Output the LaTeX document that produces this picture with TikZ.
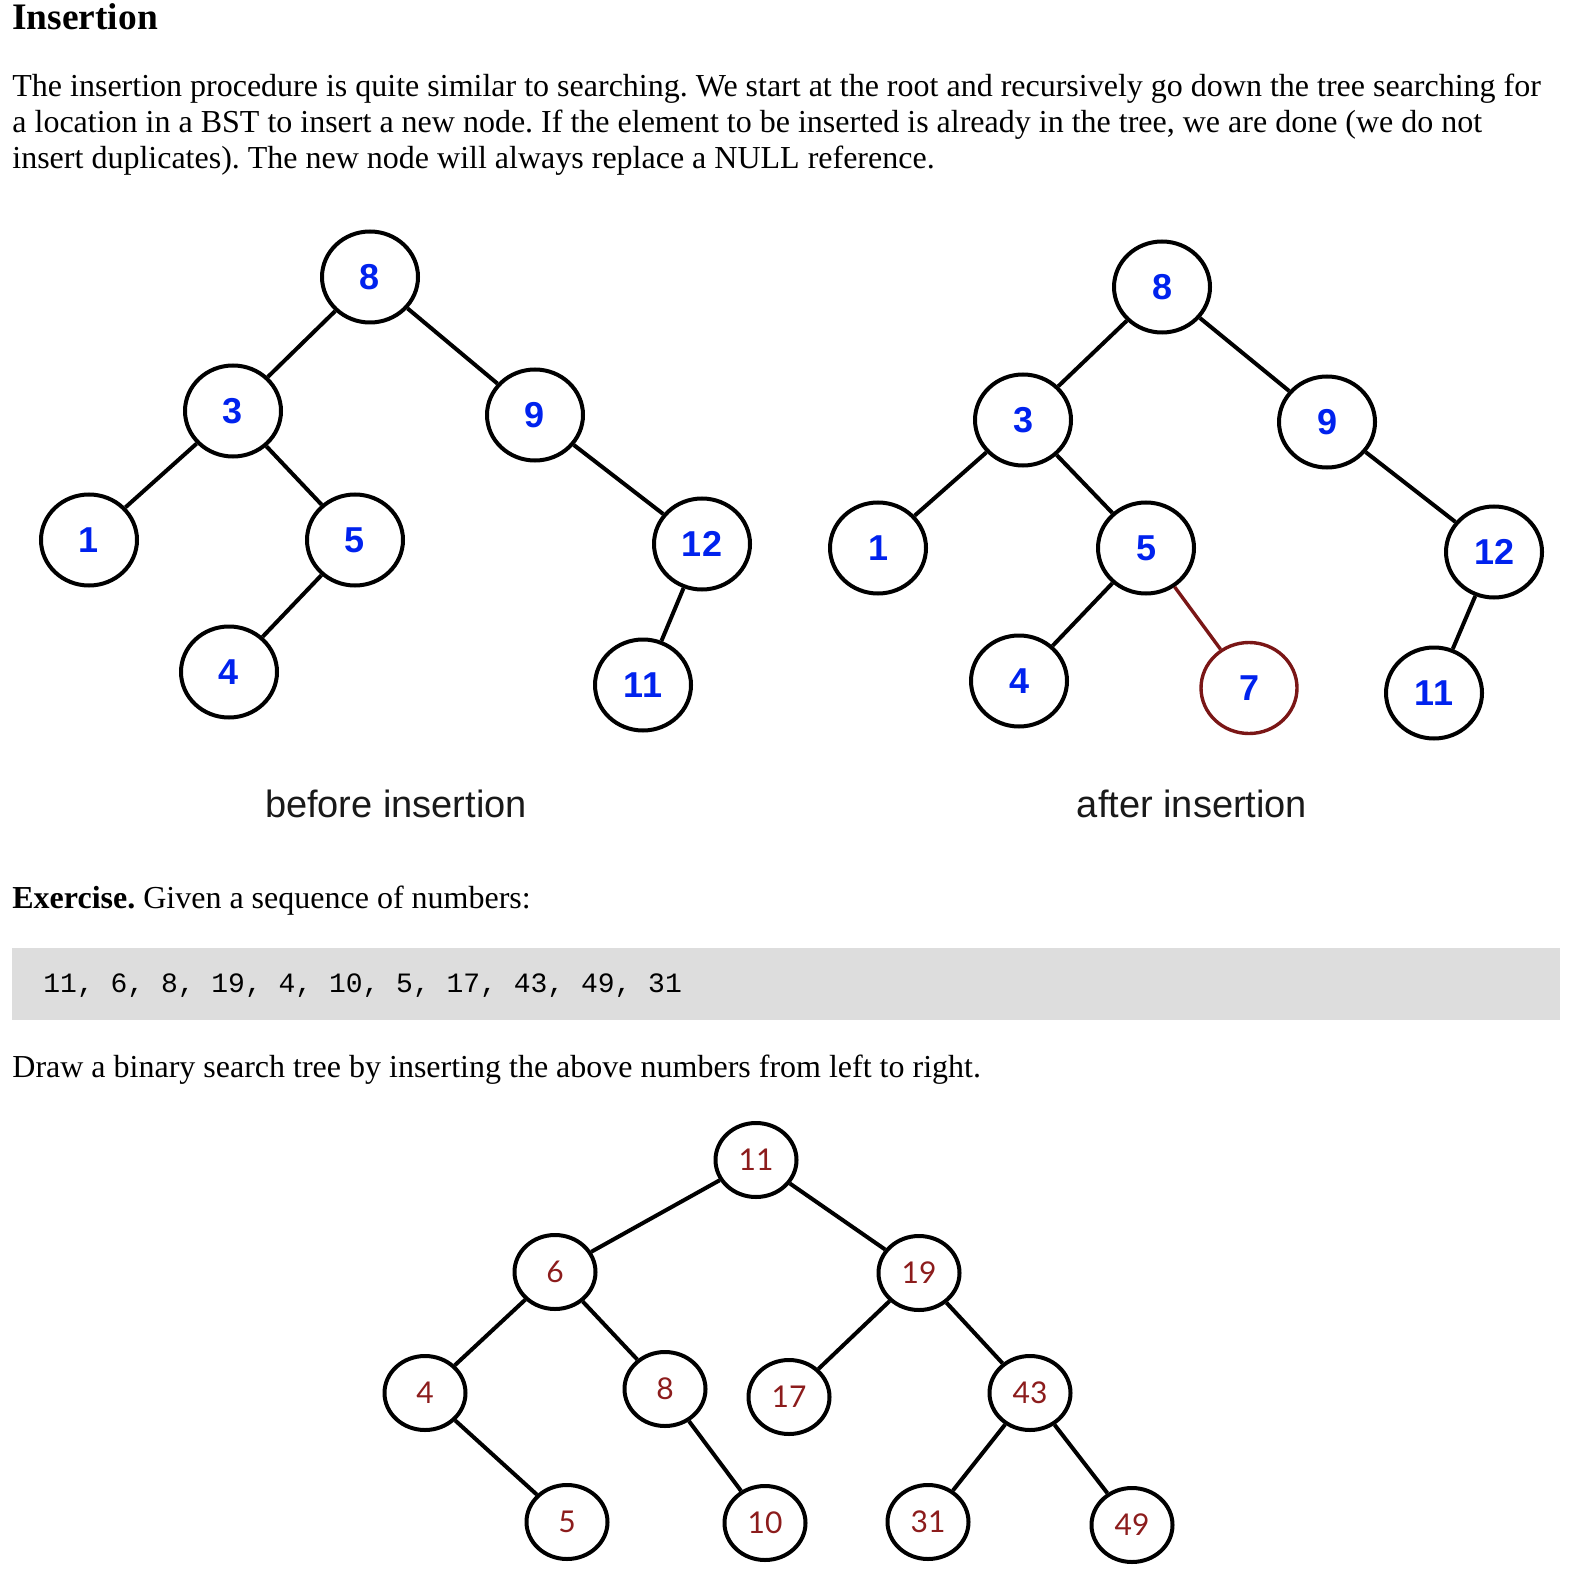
\documentclass[tikz,border=0pt]{standalone}
\usepackage{fontspec}
\setmainfont{Liberation Serif}
\newfontfamily\capfont{Liberation Sans}
\newfontfamily\codefont{Liberation Mono}
\newfontfamily\keyfont{Lato}
\usetikzlibrary{positioning,shapes.geometric}
\frenchspacing

\definecolor{keyblue}{RGB}{0,34,238}
\definecolor{newred}{RGB}{122,22,22}
\definecolor{exred}{RGB}{140,28,28}
\definecolor{codegray}{RGB}{221,221,221}

\tikzset{
	bst/.style={ellipse, draw, line width=2pt, inner sep=0pt, minimum width=48pt, minimum height=45.5pt,
		text=keyblue, font=\capfont\bfseries\fontsize{18}{18}\selectfont},
	newbst/.style={bst, draw=newred, line width=1.7pt},
	exbst/.style={ellipse, draw, line width=2pt, inner sep=0pt, minimum width=40.5pt, minimum height=37pt,
		text=exred, font=\keyfont\fontsize{15}{15}\selectfont},
	link/.style={line width=2pt},
	newlink/.style={line width=1.7pt, draw=newred},
	txt/.style={anchor=base west, inner sep=0pt, font=\fontsize{16}{18}\selectfont},
	caption/.style={anchor=base, inner sep=0pt, text=black!90, font=\capfont\fontsize{19}{19}\selectfont},
	codebox/.style={fill=codegray, inner sep=0pt, minimum width=774pt, minimum height=36pt},
}

\begin{document}
\begin{tikzpicture}[x=0.5pt, y=-0.5pt, on grid]
	\useasboundingbox (0,0) rectangle (1572,1588);

	\node[txt, font=\bfseries\fontsize{18.7}{20}\selectfont] (title) at (12,30) {Insertion};
	\node[txt] (par1) at (12,97) {The insertion procedure is quite similar to searching. We start at the root and recursively go down the tree searching for};
	\node[txt] (par2) at (12,133) {a location in a BST to insert a new node. If the element to be inserted is already in the tree, we are done (we do not};
	\node[txt] (par3) at (12,169) {insert duplicates). The new node will always replace a NULL reference.};

	\node[bst] (l8) at (370,277) {8};
	\node[bst, below left=67pt and 68.5pt of l8] (l3) {3};
	\node[bst, below right=69pt and 82.5pt of l8] (l9) {9};
	\node[bst, below left=64.5pt and 72pt of l3] (l1) {1};
	\node[bst, below right=64.5pt and 61pt of l3] (l5) {5};
	\node[bst, below left=66pt and 63pt of l5] (l4) {4};
	\node[bst, below right=64.5pt and 83.5pt of l9] (l12) {12};
	\node[bst, below left=70.5pt and 29.5pt of l12] (l11) {11};

	\node[bst] (r8) at (1162,287) {8};
	\node[bst, below left=66.5pt and 69.5pt of r8] (r3) {3};
	\node[bst, below right=67.5pt and 82.5pt of r8] (r9) {9};
	\node[bst, below left=64pt and 72.5pt of r3] (r1) {1};
	\node[bst, below right=64pt and 61.5pt of r3] (r5) {5};
	\node[bst, below left=66.5pt and 63.5pt of r5] (r4) {4};
	\node[newbst, below right=70pt and 51.5pt of r5] (r7) {7};
	\node[bst, below right=65pt and 83.5pt of r9] (r12) {12};
	\node[bst, below left=70.5pt and 30pt of r12] (r11) {11};

	\draw[link] (l8) -- (l3) -- (l1);
	\draw[link] (l3) -- (l5) -- (l4);
	\draw[link] (l8) -- (l9) -- (l12) -- (l11);
	\draw[link] (r8) -- (r3) -- (r1);
	\draw[link] (r3) -- (r5) -- (r4);
	\draw[newlink] (r5) -- (r7);
	\draw[link] (r8) -- (r9) -- (r12) -- (r11);

	\node[caption] (before) at (396,817) {before insertion};
	\node[caption] (after) at (1192,817) {after insertion};

	\node[txt] (exercise) at (12,908) {\textbf{Exercise.} Given a sequence of numbers:};
	\node[codebox] (seqbox) at (786,984) {};
	\node[txt, font=\codefont\fontsize{14}{14}\selectfont] (seq) at (43,992) {11, 6, 8, 19, 4, 10, 5, 17, 43, 49, 31};
	\node[txt] (task) at (12,1077) {Draw a binary search tree by inserting the above numbers from left to right.};

	\node[exbst] (e11) at (756,1160) {11};
	\node[exbst, below left=56pt and 100.5pt of e11] (e6) {6};
	\node[exbst, below right=56.5pt and 81.5pt of e11] (e19) {19};
	\node[exbst, below left=60.5pt and 65pt of e6] (e4) {4};
	\node[exbst, below right=58.5pt and 55pt of e6] (e8) {8};
	\node[exbst, below right=64.5pt and 71pt of e4] (e5) {5};
	\node[exbst, below right=67pt and 50pt of e8] (e10) {10};
	\node[exbst, below left=62pt and 65pt of e19] (e17) {17};
	\node[exbst, below right=60pt and 55.5pt of e19] (e43) {43};
	\node[exbst, below left=64.5pt and 51pt of e43] (e31) {31};
	\node[exbst, below right=66pt and 51pt of e43] (e49) {49};

	\draw[link] (e11) -- (e6) -- (e4) -- (e5);
	\draw[link] (e6) -- (e8) -- (e10);
	\draw[link] (e11) -- (e19) -- (e17);
	\draw[link] (e19) -- (e43) -- (e31);
	\draw[link] (e43) -- (e49);

\end{tikzpicture}
\end{document}
